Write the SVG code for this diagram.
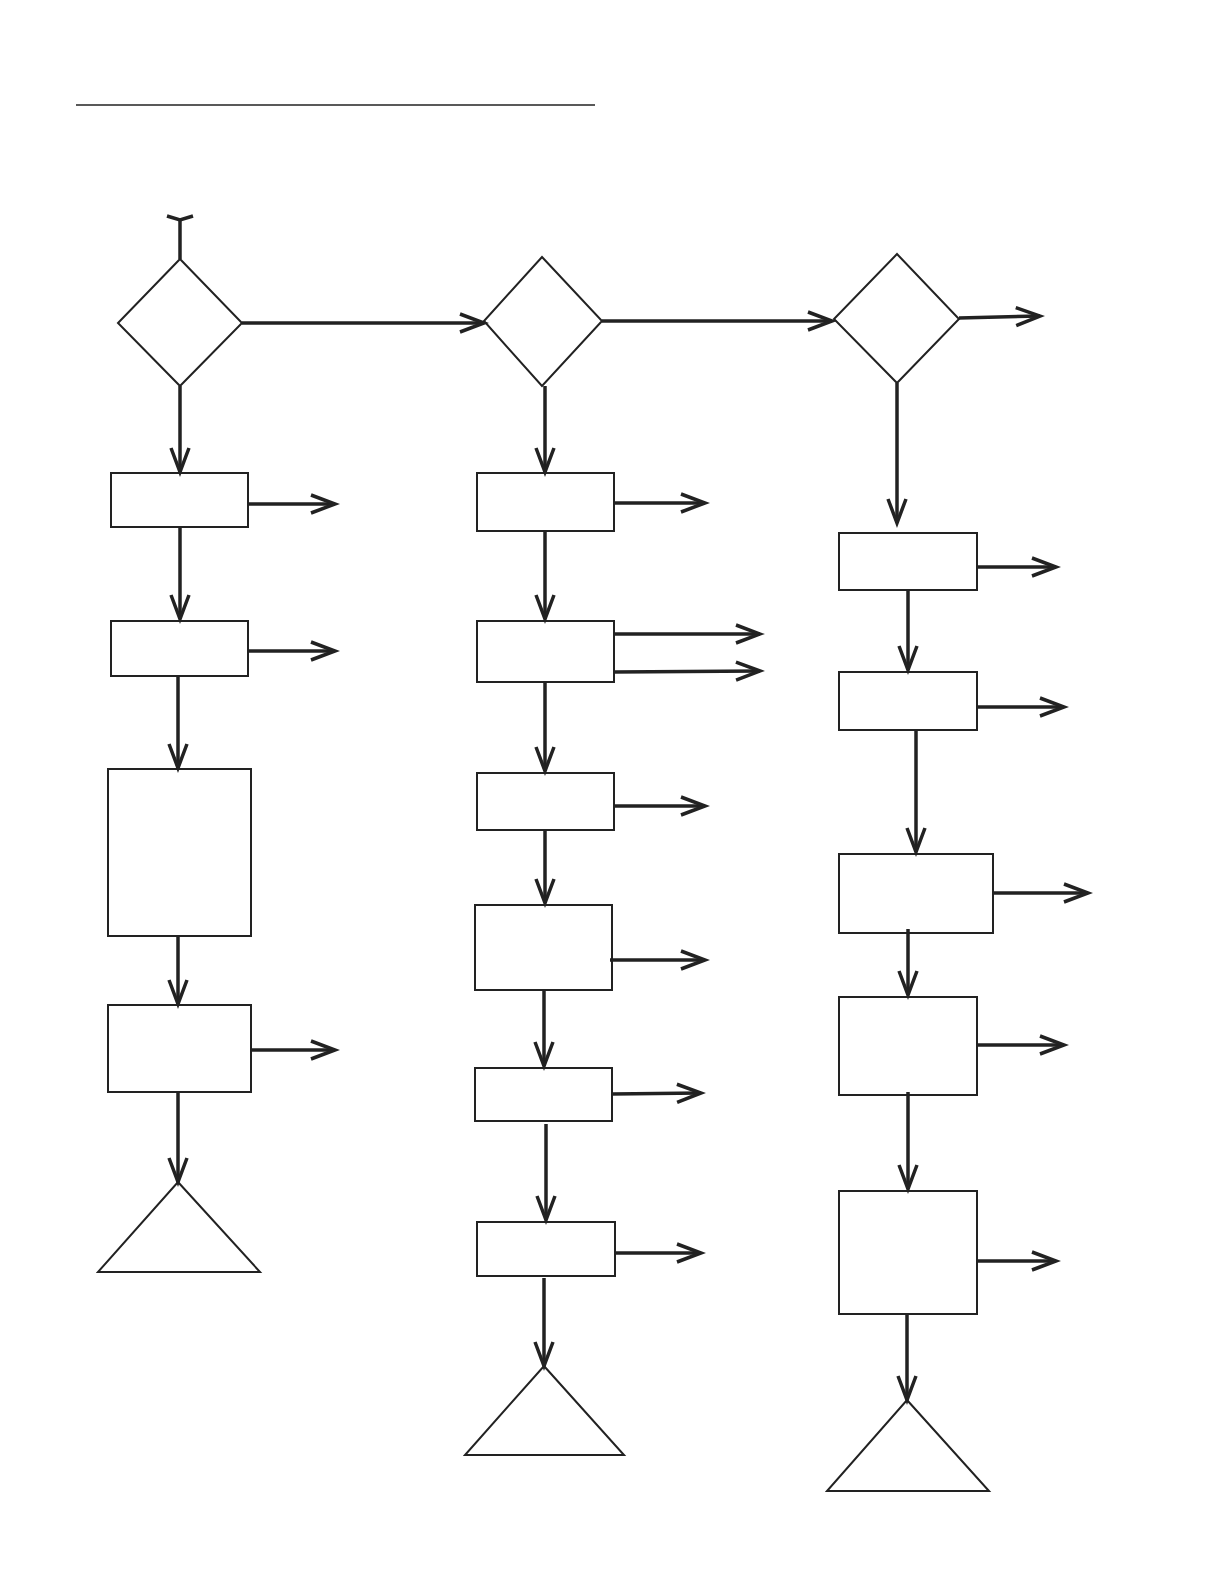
<svg xmlns="http://www.w3.org/2000/svg" width="1224" height="1584" viewBox="0 0 1224 1584">
<style>
.n{fill:#fff;stroke:#222;stroke-width:2}
.c{fill:none;stroke:#222;stroke-width:3.5}
</style>
<defs>
<marker id="ah" markerUnits="userSpaceOnUse" markerWidth="30" markerHeight="24" viewBox="0 0 30 24" refX="26" refY="12" orient="auto" overflow="visible">
<path d="M2,3 L26,12 L2,21" fill="none" stroke="#222" stroke-width="3.5"/>
</marker>
</defs>
<rect width="1224" height="1584" fill="#fff"/>
<line x1="76" y1="105" x2="595" y2="105" stroke="#222" stroke-width="1.5"/>
<g id="start"><path d="M167,216 L180,220 L193,216" fill="none" stroke="#222" stroke-width="3.5"/></g>
<g id="d1"><polygon class="n" points="180,259 242,323 180,386 118,323"/></g>
<g id="d2"><polygon class="n" points="542,257 602,321 542,386 484,321"/></g>
<g id="d3"><polygon class="n" points="897,254 959,319 897,383 834,319"/></g>
<g id="b1"><rect class="n" x="111" y="473" width="137" height="54"/></g>
<g id="b2"><rect class="n" x="111" y="621" width="137" height="55"/></g>
<g id="b3"><rect class="n" x="108" y="769" width="143" height="167"/></g>
<g id="b4"><rect class="n" x="108" y="1005" width="143" height="87"/></g>
<g id="t1"><polygon class="n" points="178,1182 260,1272 98,1272"/></g>
<g id="b5"><rect class="n" x="477" y="473" width="137" height="58"/></g>
<g id="b6"><rect class="n" x="477" y="621" width="137" height="61"/></g>
<g id="b7"><rect class="n" x="477" y="773" width="137" height="57"/></g>
<g id="b8"><rect class="n" x="475" y="905" width="137" height="85"/></g>
<g id="b9"><rect class="n" x="475" y="1068" width="137" height="53"/></g>
<g id="b10"><rect class="n" x="477" y="1222" width="138" height="54"/></g>
<g id="t2"><polygon class="n" points="544,1366 624,1455 465,1455"/></g>
<g id="b11"><rect class="n" x="839" y="533" width="138" height="57"/></g>
<g id="b12"><rect class="n" x="839" y="672" width="138" height="58"/></g>
<g id="b13"><rect class="n" x="839" y="854" width="154" height="79"/></g>
<g id="b14"><rect class="n" x="839" y="997" width="138" height="98"/></g>
<g id="b15"><rect class="n" x="839" y="1191" width="138" height="123"/></g>
<g id="t3"><polygon class="n" points="907,1400 989,1491 827,1491"/></g>
<g id="connectors" class="c" marker-end="url(#ah)">
<line x1="180" y1="220" x2="180" y2="259" marker-end="none"/>
<line x1="242" y1="323" x2="484" y2="323"/>
<line x1="602" y1="321" x2="832" y2="321"/>
<line x1="959" y1="318" x2="1040" y2="316"/>
<line x1="180" y1="386" x2="180" y2="472"/>
<line x1="248" y1="504" x2="335" y2="504"/>
<line x1="180" y1="527" x2="180" y2="619"/>
<line x1="248" y1="651" x2="335" y2="651"/>
<line x1="178" y1="676" x2="178" y2="768"/>
<line x1="178" y1="936" x2="178" y2="1004"/>
<line x1="251" y1="1050" x2="335" y2="1050"/>
<line x1="178" y1="1092" x2="178" y2="1182"/>
<line x1="545" y1="386" x2="545" y2="472"/>
<line x1="614" y1="503" x2="705" y2="503"/>
<line x1="545" y1="531" x2="545" y2="619"/>
<line x1="614" y1="634" x2="760" y2="634"/>
<line x1="614" y1="672" x2="760" y2="671"/>
<line x1="545" y1="682" x2="545" y2="771"/>
<line x1="614" y1="806" x2="705" y2="806"/>
<line x1="545" y1="830" x2="545" y2="903"/>
<line x1="610" y1="960" x2="705" y2="960"/>
<line x1="544" y1="990" x2="544" y2="1066"/>
<line x1="612" y1="1094" x2="701" y2="1093"/>
<line x1="546" y1="1124" x2="546" y2="1220"/>
<line x1="615" y1="1253" x2="701" y2="1253"/>
<line x1="544" y1="1278" x2="544" y2="1366"/>
<line x1="897" y1="383" x2="897" y2="523"/>
<line x1="977" y1="567" x2="1056" y2="567"/>
<line x1="908" y1="590" x2="908" y2="670"/>
<line x1="977" y1="707" x2="1064" y2="707"/>
<line x1="916" y1="730" x2="916" y2="852"/>
<line x1="993" y1="893" x2="1088" y2="893"/>
<line x1="908" y1="929" x2="908" y2="995"/>
<line x1="977" y1="1045" x2="1064" y2="1045"/>
<line x1="908" y1="1092" x2="908" y2="1189"/>
<line x1="977" y1="1261" x2="1056" y2="1261"/>
<line x1="907" y1="1314" x2="907" y2="1400"/>
</g>
</svg>
